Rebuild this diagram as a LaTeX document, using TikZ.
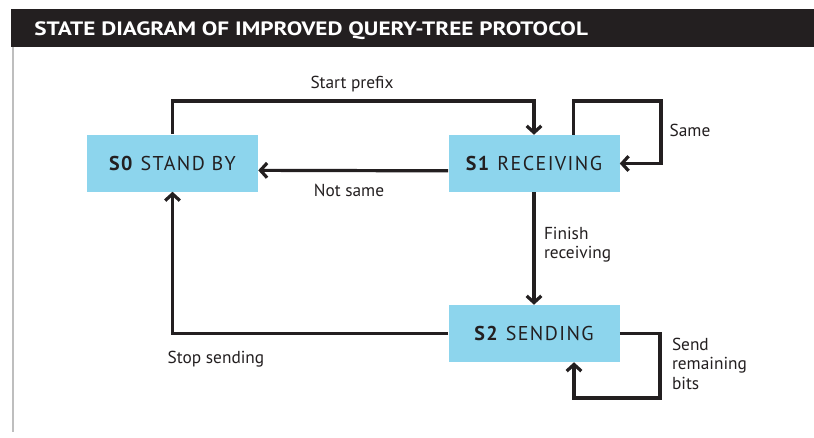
\documentclass[tikz,border=0pt]{standalone}
\usepackage{fontspec}
\setmainfont{PT Sans}
\newfontfamily\statefont[LetterSpace=7]{PT Sans}
\usetikzlibrary{arrows.meta}

\begin{document}
\begin{tikzpicture}[x=0.75pt,y=-0.75pt,
  state/.style={fill=fillColor,minimum width=128.25pt,minimum height=42.75pt,inner sep=0pt,
    text=drawColor,font=\statefont\fontsize{15}{17}\selectfont},
  flow/.style={draw=drawColor,line width=2.4pt,-{Straight Barb[length=5pt,width=11pt]}},
  tag/.style={text=drawColor,inner sep=0pt,outer sep=0pt,font=\fontsize{13}{14.6}\selectfont}]
\definecolor{fillColor}{RGB}{141,213,237}
\definecolor{drawColor}{RGB}{35,31,32}
\definecolor{barColor}{RGB}{35,31,32}
\definecolor{ruleColor}{RGB}{190,190,190}
\path[use as bounding box,fill=white] (0,0) rectangle (814,437);

\fill[barColor] (11,9) rectangle (814,47);
\node[text=white,anchor=base west,inner sep=0pt,font=\bfseries\fontsize{14.5}{16}\selectfont] (title) at (34,35) {\scalebox{1.2}[1]{STATE DIAGRAM OF IMPROVED QUERY-TREE PROTOCOL}};
\draw[ruleColor,line width=2.2pt] (13,47) -- (13,432);

\node[state] (s0) at (172.5,163) {\textbf{S0} STAND BY};
\node[state] (s1) at (534,163.5) {\textbf{S1} RECEIVING};
\node[state] (s2) at (534,333.5) {\textbf{S2} SENDING};

\coordinate (topline) at (0,101);
\coordinate (sameCorner) at (661,101);
\coordinate (sendCorner) at (660,398);

\draw[flow] (s0.north) |- (s1.north |- topline) -- (s1.north);
\draw[flow] ([xshift=29.6pt]s1.north) |- (sameCorner) |- (s1.east);
\draw[flow] ([yshift=-5.5pt]s1.west) -- ([yshift=-5.5pt]s0.east);
\draw[flow] (s1.south) -- (s2.north);
\draw[flow] (s2.west) -| (s0.south);
\draw[flow] (s2.east) -| (sendCorner) -| ([xshift=30pt]s2.south);

\node[tag] (startlbl) at (352,84) {Start prefix};
\node[tag] (samelbl) at (690,130) {Same};
\node[tag] (notsamelbl) at (349,190) {Not same};
\node[tag,anchor=north west,align=left] (finishlbl) at (544,227) {Finish\\receiving};
\node[tag] (stoplbl) at (216,359) {Stop sending};
\node[tag,anchor=north west,align=left] (sendlbl) at (672,338) {Send\\remaining\\bits};
\end{tikzpicture}
\end{document}
